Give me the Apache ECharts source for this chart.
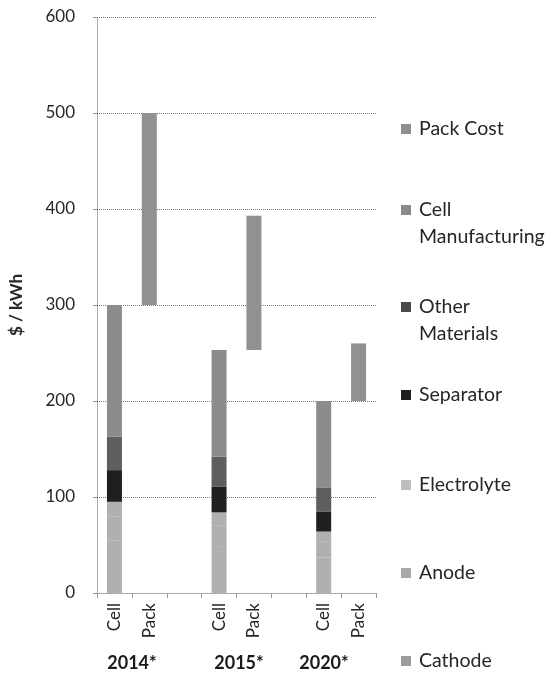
<!DOCTYPE html>
<html>
<head>
<meta charset="utf-8">
<script src="https://cdn.jsdelivr.net/npm/echarts@6/dist/echarts.min.js"></script>
<style>html,body{margin:0;padding:0;background:#fff;}#c{width:552px;height:695px;}</style>
</head>
<body>
<div id="c"></div>
<script>
// ---- data ----
const categories = ['Cell', 'Pack', '', 'Cell', 'Pack', '', 'Cell', 'Pack'];
const years = ['2014*', '2015*', '2020*'];
const cellIndex = [0, 3, 6];
const packIndex = [1, 4, 7];
const cathode = [55, 48, 37];
const anode = [25, 22, 17];
const electrolyte = [15, 14, 10];
const separator = [33, 27, 21];
const otherMaterials = [35, 31, 25];
const cellManufacturing = [137, 111, 90];
const packCost = [200, 140, 60];
const yTicks = [0, 100, 200, 300, 400, 500, 600];

// ---- layout / style ----
const FONT = 'Lato';
const yearLabelX = [132, 239, 324];
const legendFirstLineY = [129, 210, 307, 395, 485, 573, 661];
const LH = 27;

function atCells(vals) {
  const d = categories.map(() => '-');
  cellIndex.forEach((ci, i) => { d[ci] = vals[i]; });
  return d;
}
function atPacks(vals) {
  const d = categories.map(() => '-');
  packIndex.forEach((pi, i) => { d[pi] = vals[i]; });
  return d;
}
const cellTotals = cathode.map((v, i) => v + anode[i] + electrolyte[i] + separator[i] + otherMaterials[i] + cellManufacturing[i]);

const seriesDefs = [
  { name: 'Cathode', data: atCells(cathode), color: '#b0b0b0' },
  { name: 'Anode', data: atCells(anode), color: '#b0b0b0' },
  { name: 'Electrolyte', data: atCells(electrolyte), color: '#b0b0b0' },
  { name: 'Separator', data: atCells(separator), color: '#1f1f1f' },
  { name: 'Other Materials', data: atCells(otherMaterials), color: '#5e5e5e' },
  { name: 'Cell Manufacturing', data: atCells(cellManufacturing), color: '#8c8c8c' },
  { name: 'Pack Cost', data: atPacks(packCost), color: '#919191' }
];

const series = [{
  name: 'base', type: 'bar', stack: 'total', barWidth: 15, silent: true,
  itemStyle: { color: 'transparent' }, data: atPacks(cellTotals)
}].concat(seriesDefs.map(s => ({
  name: s.name, type: 'bar', stack: 'total', barWidth: 15,
  itemStyle: { color: s.color }, data: s.data
})));

const legendOrder = ['Pack Cost', 'Cell Manufacturing', 'Other Materials', 'Separator', 'Electrolyte', 'Anode', 'Cathode'];
const legendIconColor = {
  'Pack Cost': '#8e8e8e', 'Cell Manufacturing': '#8a8a8a', 'Other Materials': '#4a4a4a',
  'Separator': '#1f1f1f', 'Electrolyte': '#bdbdbd', 'Anode': '#a8a8a8', 'Cathode': '#9c9c9c'
};
const legendText = {
  'Cell Manufacturing': 'Cell\nManufacturing',
  'Other Materials': 'Other\nMaterials'
};
const legends = legendOrder.map((name, i) => ({
  show: true,
  data: [{ name: name, itemStyle: { color: legendIconColor[name] } }],
  orient: 'vertical',
  left: 401,
  top: legendFirstLineY[i] - 1.5 * LH,
  padding: 0,
  itemWidth: 10,
  itemHeight: 10,
  itemGap: 0,
  icon: 'rect',
  selectedMode: false,
  formatter: n => '\u00a0\n' + (legendText[n] || n) + (legendText[n] ? '' : '\n\u00a0'),
  textStyle: { fontFamily: FONT, fontSize: 19.5, color: '#262626', lineHeight: LH, padding: [0, 0, 0, 3] }
}));

const chart = echarts.init(document.getElementById('c'), null, { renderer: 'canvas' });
chart.setOption({
  animation: false,
  backgroundColor: '#fff',
  grid: { left: 96, right: 176, top: 17, bottom: 102, containLabel: false },
  legend: legends,
  xAxis: {
    type: 'category',
    data: categories,
    axisLine: { show: true, lineStyle: { color: '#999', type: 'dotted', width: 1 } },
    axisTick: { show: true, interval: 0, length: 5, lineStyle: { color: '#999' } },
    axisLabel: { interval: 0, rotate: 90, margin: 10, fontFamily: FONT, fontSize: 17, color: '#262626' },
    splitLine: { show: false }
  },
  yAxis: {
    type: 'value',
    min: yTicks[0],
    max: yTicks[yTicks.length - 1],
    interval: 100,
    name: '$ / kWh',
    nameLocation: 'middle',
    nameGap: 72,
    nameTextStyle: { fontFamily: FONT, fontSize: 17, fontWeight: 'bold', color: '#262626' },
    axisLine: { show: true, lineStyle: { color: '#999', type: 'dotted', width: 1 } },
    axisTick: { show: true, length: 4, lineStyle: { color: '#999' } },
    axisLabel: { margin: 22, fontFamily: FONT, fontSize: 17, color: '#262626' },
    splitLine: { show: true, lineStyle: { color: '#777', type: 'dotted', width: 1 } }
  },
  graphic: years.map((y, i) => ({
    type: 'text',
    x: yearLabelX[i],
    y: 663,
    style: { text: y, fontFamily: FONT, fontSize: 18, fontWeight: 'bold', fill: '#1a1a1a', align: 'center', verticalAlign: 'middle' }
  })),
  series: series
});
</script>
</body>
</html>
